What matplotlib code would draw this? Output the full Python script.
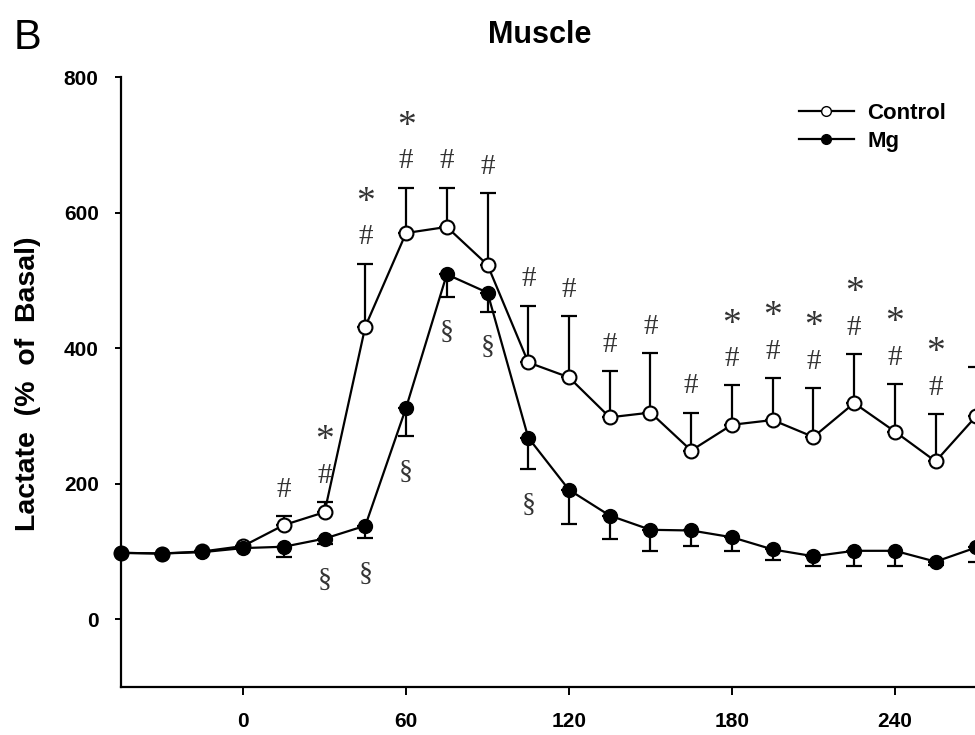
import matplotlib.pyplot as plt
import numpy as np
from matplotlib.lines import Line2D

plt.rcParams['font.family'] = ['Liberation Sans', 'DejaVu Sans']

# time points (min)
time = list(range(-45, 271, 15))

control = [98, 97, 100, 108, 139, 158, 432, 570, 579, 523, 379, 357, 298, 305,
           249, 287, 294, 269, 319, 277, 233, 300]
control_err = [0, 0, 0, 0, 13, 15, 93, 67, 58, 106, 84, 90, 68, 88,
               56, 58, 62, 72, 72, 70, 70, 72]

mg = [98, 97, 99, 105, 107, 119, 138, 312, 509, 482, 268, 191, 153, 132,
      131, 121, 103, 93, 101, 101, 85, 106]
mg_err = [0, 0, 0, 0, 15, 8, 18, 42, 33, 28, 47, 51, 35, 31,
          23, 21, 16, 15, 23, 23, 5, 22]

# significance marks: Control vs basal (#), Control vs Mg (*), Mg vs basal (§)
hash_times = [15, 30, 45, 60, 75, 90, 105, 120, 135, 150, 165, 180, 195, 210, 225, 240, 255, 270]
star_times = [30, 45, 60, 180, 195, 210, 225, 240, 255, 270]
sect_times = [30, 45, 60, 75, 90, 105]

fig = plt.figure(figsize=(9.75, 7.35), dpi=100)
ax = fig.add_axes([0.124, 0.0653, 0.876, 0.8297])

ax.errorbar(time, control, yerr=[np.zeros(len(control_err)), control_err],
            fmt='none', ecolor='black', elinewidth=1.6, capsize=6, capthick=1.6, zorder=2)
ax.errorbar(time, mg, yerr=[mg_err, np.zeros(len(mg_err))],
            fmt='none', ecolor='black', elinewidth=1.6, capsize=6, capthick=1.6, zorder=2)
ax.plot(time, control, '-o', color='black', lw=1.6, ms=10, mfc='white', mec='black',
        mew=1.5, zorder=3, clip_on=False)
ax.plot(time, mg, '-o', color='black', lw=1.6, ms=10, mfc='black', mec='black',
        zorder=4, clip_on=False)

sym_font = dict(family='Liberation Serif', color='#333333', ha='center', va='center')
for t in hash_times:
    i = time.index(t)
    top = control[i] + control_err[i]
    ax.annotate('#', (t, top), xytext=(0, 19), textcoords='offset points',
                fontsize=21, **sym_font)
for t in star_times:
    i = time.index(t)
    top = control[i] + control_err[i]
    ax.annotate('*', (t, top), xytext=(0, 44), textcoords='offset points',
                fontsize=27, **sym_font)
for t in sect_times:
    i = time.index(t)
    low = mg[i] - mg_err[i]
    ax.annotate('§', (t, low), xytext=(0, -26), textcoords='offset points',
                fontsize=20, **sym_font)

ax.set_xlim(-45, 269.5)
ax.set_ylim(-100, 800)
ax.set_xticks([0, 60, 120, 180, 240])
ax.set_yticks([0, 200, 400, 600, 800])
ax.spines['top'].set_visible(False)
ax.spines['right'].set_visible(False)
ax.spines['left'].set_linewidth(1.6)
ax.spines['bottom'].set_linewidth(1.6)
ax.tick_params(axis='x', direction='out', length=6, width=1.4, labelsize=15, pad=12)
ax.tick_params(axis='y', direction='out', length=4, width=1.4, labelsize=15, pad=12)
for lab in ax.get_xticklabels() + ax.get_yticklabels():
    lab.set_fontweight('bold')
ax.set_ylabel('Lactate  (%  of  Basal)', fontsize=20.5, fontweight='bold')
ax.yaxis.set_label_coords(-0.093, 0.497)

handles = [Line2D([], [], color='black', lw=1.6, marker='o', ms=7, mfc='white', mec='black'),
           Line2D([], [], color='black', lw=1.6, marker='o', ms=7, mfc='black', mec='black')]
ax.legend(handles, ['Control', 'Mg'], loc='upper right', bbox_to_anchor=(0.99, 0.99),
          frameon=False, prop=dict(weight='bold', size=16), handlelength=2.5,
          handletextpad=0.6, labelspacing=0.3)

fig.text(0.554, 0.952, 'Muscle', ha='center', va='center', fontsize=22, fontweight='bold')
fig.text(0.014, 0.948, 'B', ha='left', va='center', fontsize=30)

fig.savefig('out.png', dpi=100)
